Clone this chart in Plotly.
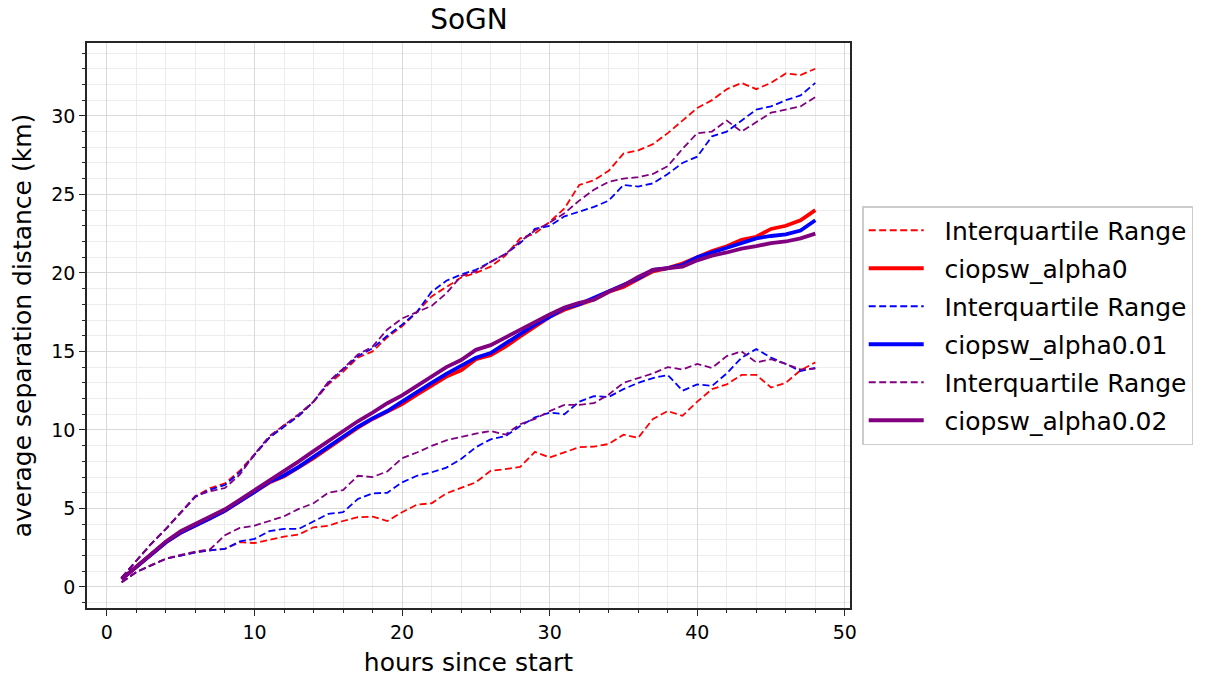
import plotly.graph_objects as go

hours = list(range(1, 49))

# ciopsw_alpha0 (red)
r_q1 = [0.3, 0.95, 1.37, 1.8, 2.0, 2.2, 2.33, 2.43, 2.85, 2.8, 3.0, 3.2,
        3.34, 3.8, 3.9, 4.2, 4.44, 4.48, 4.2, 4.76, 5.24, 5.33, 5.96, 6.3,
        6.66, 7.4, 7.5, 7.65, 8.6, 8.24, 8.56, 8.9, 8.94, 9.1, 9.7, 9.5,
        10.7, 11.2, 10.9, 11.8, 12.6, 12.9, 13.5, 13.5, 12.7, 13.0, 13.8, 14.3]
r_q3 = [0.6, 1.7, 2.75, 3.7, 4.76, 5.75, 6.3, 6.6, 7.4, 8.45, 9.5, 10.3,
        10.9, 11.8, 12.9, 13.7, 14.6, 15.0, 15.9, 16.6, 17.5, 18.5, 19.1, 19.7,
        20.0, 20.4, 21.1, 22.2, 22.5, 23.25, 24.1, 25.6, 25.9, 26.5, 27.6, 27.8,
        28.2, 28.9, 29.7, 30.5, 31.0, 31.7, 32.1, 31.7, 32.1, 32.7, 32.6, 33.0]
r_mean = [0.5, 1.27, 2.1, 2.85, 3.45, 3.9, 4.35, 4.85, 5.45, 6.05, 6.65, 7.05,
          7.6, 8.2, 8.86, 9.5, 10.15, 10.7, 11.15, 11.65, 12.25, 12.85, 13.4, 13.8,
          14.5, 14.75, 15.3, 15.96, 16.6, 17.2, 17.65, 17.95, 18.3, 18.8, 19.1, 19.6,
          20.1, 20.3, 20.6, 21.0, 21.4, 21.7, 22.1, 22.3, 22.8, 23.0, 23.35, 24.0]

# ciopsw_alpha0.01 (blue)
b_q1 = [0.3, 0.95, 1.37, 1.8, 2.0, 2.2, 2.33, 2.43, 2.9, 3.06, 3.55, 3.7,
        3.7, 4.2, 4.65, 4.76, 5.6, 5.96, 6.0, 6.66, 7.08, 7.3, 7.6, 8.15,
        8.9, 9.4, 9.6, 10.25, 10.8, 11.1, 11.0, 11.8, 12.15, 12.1, 12.6, 13.0,
        13.3, 13.5, 12.5, 12.9, 12.8, 13.6, 14.6, 15.15, 14.6, 14.2, 13.75, 13.95]
b_q3 = [0.6, 1.7, 2.75, 3.7, 4.76, 5.75, 6.2, 6.5, 7.3, 8.4, 9.5, 10.2,
        10.9, 11.8, 13.0, 13.85, 14.7, 15.2, 16.0, 16.7, 17.5, 18.8, 19.5, 19.9,
        20.2, 20.7, 21.2, 21.9, 22.8, 23.0, 23.6, 23.9, 24.2, 24.6, 25.6, 25.5,
        25.7, 26.3, 27.0, 27.4, 28.7, 29.0, 29.7, 30.4, 30.6, 31.0, 31.3, 32.1]
b_mean = [0.5, 1.27, 2.1, 2.85, 3.47, 3.9, 4.37, 4.87, 5.45, 6.05, 6.7, 7.1,
          7.65, 8.3, 8.9, 9.56, 10.2, 10.74, 11.2, 11.8, 12.43, 13.0, 13.57, 14.1,
          14.6, 14.9, 15.5, 16.1, 16.7, 17.2, 17.75, 18.0, 18.4, 18.85, 19.2, 19.65,
          20.2, 20.3, 20.5, 21.0, 21.3, 21.6, 21.9, 22.2, 22.35, 22.45, 22.7, 23.35]

# ciopsw_alpha0.02 (purple)
p_q1 = [0.3, 0.95, 1.4, 1.8, 2.05, 2.25, 2.4, 3.3, 3.76, 3.9, 4.2, 4.5,
        4.97, 5.33, 6.0, 6.17, 7.08, 7.0, 7.36, 8.2, 8.56, 8.98, 9.34, 9.56,
        9.77, 9.93, 9.7, 10.36, 10.7, 11.2, 11.6, 11.6, 11.7, 12.26, 13.0, 13.3,
        13.6, 14.0, 13.85, 14.2, 13.95, 14.7, 15.0, 14.3, 14.5, 14.2, 13.85, 13.9]
p_q3 = [0.6, 1.7, 2.75, 3.7, 4.76, 5.8, 6.1, 6.3, 7.15, 8.45, 9.6, 10.3,
        11.0, 11.8, 13.06, 13.9, 14.8, 15.3, 16.4, 17.1, 17.5, 17.9, 18.7, 19.8,
        20.1, 20.7, 21.2, 22.0, 22.7, 23.2, 23.8, 24.6, 25.3, 25.8, 26.0, 26.1,
        26.3, 26.8, 27.9, 28.9, 29.0, 29.7, 29.0, 29.6, 30.2, 30.4, 30.6, 31.2]
p_mean = [0.5, 1.3, 2.15, 2.9, 3.55, 4.0, 4.45, 4.95, 5.55, 6.15, 6.8, 7.35,
          8.0, 8.65, 9.3, 9.94, 10.55, 11.1, 11.7, 12.2, 12.8, 13.4, 14.0, 14.45,
          15.1, 15.4, 15.9, 16.4, 16.9, 17.35, 17.8, 18.1, 18.3, 18.8, 19.2, 19.75,
          20.2, 20.3, 20.4, 20.8, 21.1, 21.3, 21.55, 21.7, 21.9, 22.0, 22.2, 22.5]

series = [
    ("ciopsw_alpha0", "#ff0000", r_q1, r_q3, r_mean),
    ("ciopsw_alpha0.01", "#0000ff", b_q1, b_q3, b_mean),
    ("ciopsw_alpha0.02", "#800080", p_q1, p_q3, p_mean),
]

FONT = "DejaVu Sans"
PAD = "\u00a0\u00a0"
fig = go.Figure()
for i, (name, color, q1, q3, mean) in enumerate(series):
    gq = "iqr%d" % i
    gm = "mean%d" % i
    fig.add_trace(go.Scatter(x=hours, y=q1, mode="lines", name=PAD + "Interquartile Range",
                             legendgroup=gq,
                             line=dict(color=color, width=1.8, dash="7px,3.5px")))
    fig.add_trace(go.Scatter(x=hours, y=q3, mode="lines", showlegend=False,
                             legendgroup=gq,
                             line=dict(color=color, width=1.8, dash="7px,3.5px")))
    fig.add_trace(go.Scatter(x=hours, y=mean, mode="lines", name=PAD + name,
                             legendgroup=gm,
                             line=dict(color=color, width=3.8)))

axis_common = dict(
    showline=True, mirror=True, linecolor="#262626", linewidth=1.6,
    ticks="outside", ticklen=6, tickwidth=1.4, tickcolor="#262626",
    showgrid=True, gridcolor="#d9d9d9", gridwidth=1.3, zeroline=False,
    tickfont=dict(family=FONT, size=19, color="black"),
)

fig.update_layout(
    width=1205, height=684,
    margin=dict(l=87, r=354, t=43, b=72),
    paper_bgcolor="white", plot_bgcolor="white",
    font=dict(family=FONT, color="black"),
    title=dict(text="SoGN", x=0.3892, xanchor="center", y=0.972, yanchor="middle",
               font=dict(family=FONT, size=28, color="black")),
    xaxis=dict(range=[-1.35, 50.35], tickmode="linear", tick0=0, dtick=10,
               title=dict(text="hours since start", font=dict(family=FONT, size=25), standoff=12),
               minor=dict(dtick=2, tick0=0, ticklen=3.5, tickcolor="#262626", ticks="outside",
                          showgrid=True, gridcolor="#ececec", gridwidth=1),
               **axis_common),
    yaxis=dict(range=[-1.34, 34.64], tickmode="linear", tick0=0, dtick=5,
               title=dict(text="average separation distance (km)", font=dict(family=FONT, size=25), standoff=12),
               minor=dict(dtick=1, tick0=0, ticklen=3.5, tickcolor="#262626", ticks="outside",
                          showgrid=True, gridcolor="#ececec", gridwidth=1),
               **axis_common),
    legend=dict(x=1.016, xanchor="left", y=0.5, yanchor="middle",
                bordercolor="#cccccc", borderwidth=1.5, bgcolor="white",
                font=dict(family=FONT, size=25, color="black"),
                itemwidth=55, tracegroupgap=2.5),
)

fig.write_html("out.html")
